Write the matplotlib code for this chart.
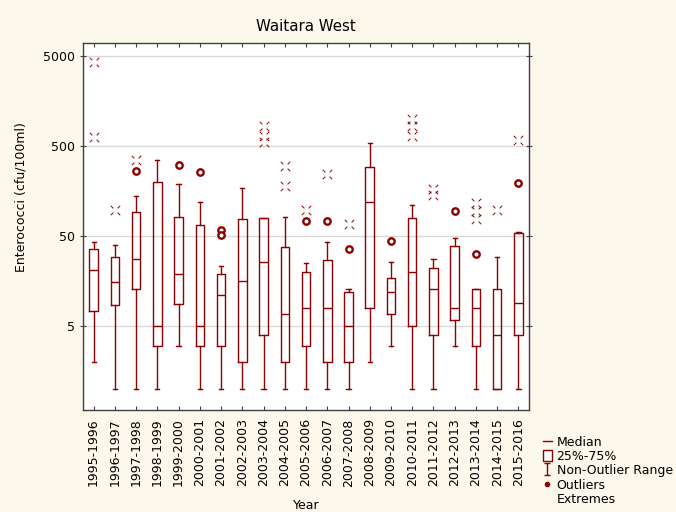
#!/usr/bin/env python3
"""Waitara West enterococci box plot (Statistica style)."""
import matplotlib
matplotlib.use("Agg")
import matplotlib.pyplot as plt
from matplotlib.path import Path
from matplotlib.lines import Line2D
from matplotlib.patches import Rectangle

# ---------------------------------------------------------------------------
seasons = ["1995-1996", "1996-1997", "1997-1998", "1998-1999", "1999-2000",
           "2000-2001", "2001-2002", "2002-2003", "2003-2004", "2004-2005",
           "2005-2006", "2006-2007", "2007-2008", "2008-2009", "2009-2010",
           "2010-2011", "2011-2012", "2012-2013", "2013-2014", "2014-2015",
           "2015-2016"]

median = [21, 15.4, 28, 5, 19, 5, 11, 16, 26, 6.9, 8, 8, 5, 120, 12, 20, 13, 8, 8, 4, 9]
q25 = [7.4, 8.5, 13, 3, 8.9, 3, 3, 2, 4, 2, 3, 2, 2, 8, 6.9, 5, 4, 5.9, 3, 1, 4]
q75 = [36, 29.5, 92, 200, 82, 66, 19, 77, 79, 38, 20, 27, 12, 292, 17, 80, 22, 39, 13, 13, 54]
whisk_lo = [2, 1, 1, 1, 3, 1, 1, 1, 1, 1, 1, 1, 1, 2, 3, 1, 1, 3, 1, 1, 1]
whisk_hi = [43, 40, 139, 349, 191, 120, 23, 170, 79, 81, 25, 43, 13, 535, 26, 110, 28, 47, 13, 29, 56]

outliers = [[], [], [262], [], [305], [259], [59, 51], [], [], [], [73], [73], [36],
            [], [44], [], [], [94], [32], [], [192]]
extremes = [[4300, 620], [97], [349], [], [], [], [], [], [820, 640, 545], [300, 180],
            [97], [246], [68], [], [], [1000, 820, 635], [165, 141], [], [117, 95, 78],
            [97], [584]]

RED = "#8b0000"
BG = "#fdf8ec"

# broken "X" marker used by Statistica for extremes
_segs = []
for dx, dy in [(1, 1), (-1, 1), (-1, -1), (1, -1)]:
    _segs += [(0.45 * dx, 0.45 * dy), (dx, dy)]
X_BROKEN = Path(_segs, [Path.MOVETO, Path.LINETO] * 4)

# whisker "I" marker for the legend
I_MARK = Path([(-0.45, 1), (0.45, 1), (0, 1), (0, -1), (-0.45, -1), (0.45, -1)],
              [Path.MOVETO, Path.LINETO, Path.MOVETO, Path.LINETO, Path.MOVETO, Path.LINETO])

plt.rcParams["font.family"] = ["DejaVu Sans"]
plt.rcParams["font.size"] = 9

fig = plt.figure(figsize=(6.76, 5.12), dpi=100, facecolor=BG)
ax = fig.add_axes([0.1228, 0.1992, 0.6598, 0.7168])
ax.set_facecolor("white")

pos = list(range(1, len(seasons) + 1))
stats = [dict(med=m, q1=a, q3=b, whislo=lo, whishi=hi, fliers=[])
         for m, a, b, lo, hi in zip(median, q25, q75, whisk_lo, whisk_hi)]
ax.bxp(stats, positions=pos, widths=0.4, capwidths=0.2, showfliers=False,
       boxprops=dict(color=RED, linewidth=1.0),
       medianprops=dict(color=RED, linewidth=1.0),
       whiskerprops=dict(color=RED, linewidth=1.0),
       capprops=dict(color=RED, linewidth=1.0))

for p, vals in zip(pos, outliers):
    if vals:
        ax.plot([p] * len(vals), vals, "o", ms=4.6, mfc="white", mec=RED, mew=1.7,
                zorder=4)
for p, vals in zip(pos, extremes):
    if vals:
        ax.plot([p] * len(vals), vals, ls="none", marker=X_BROKEN, ms=6.8, mec=RED,
                mew=0.7, zorder=4)

ax.set_yscale("log")
ax.set_ylim(0.59, 6900)
ax.set_xlim(0.5, len(seasons) + 0.5)
ax.set_yticks([5, 50, 500, 5000])
ax.set_yticklabels(["5", "50", "500", "5000"])
ax.minorticks_off()
ax.yaxis.grid(True, color="#d9d9d9", linewidth=1.0)
ax.set_axisbelow(True)
ax.set_xticks(pos)
ax.set_xticklabels(seasons, rotation=90)
ax.tick_params(axis="x", direction="in", length=3, top=True, pad=6, colors="#404040",
               labelcolor="black")
ax.tick_params(axis="y", direction="inout", length=4, right=True, pad=4, colors="#404040",
               labelcolor="black")
for sp in ax.spines.values():
    sp.set_color("#404040")
    sp.set_linewidth(1.0)

ax.set_title("Waitara West", pad=9)
ax.set_ylabel("Enterococci (cfu/100ml)")
ax.yaxis.set_label_coords(-0.125, 0.58)
ax.set_xlabel("Year", labelpad=9)

handles = [
    Line2D([], [], color=RED, lw=1.0),
    Rectangle((0, 0), 1, 1, facecolor="white", edgecolor=RED, lw=1.0),
    Line2D([], [], ls="none", marker=I_MARK, ms=9, mec=RED, mew=1.0),
    Line2D([], [], ls="none", marker="o", ms=3, mfc=RED, mec=RED),
    Line2D([], [], ls="none"),
]
names = ["Median", "25%-75%", "Non-Outlier Range", "Outliers", "Extremes"]
fig.legend(handles, names, loc="lower left", bbox_to_anchor=(0.79, -0.005),
           frameon=False, handlelength=0.7, handleheight=1.0, handletextpad=0.4,
           labelspacing=0.1, borderpad=0.2)

fig.savefig("out.png", dpi=100, facecolor=BG)
